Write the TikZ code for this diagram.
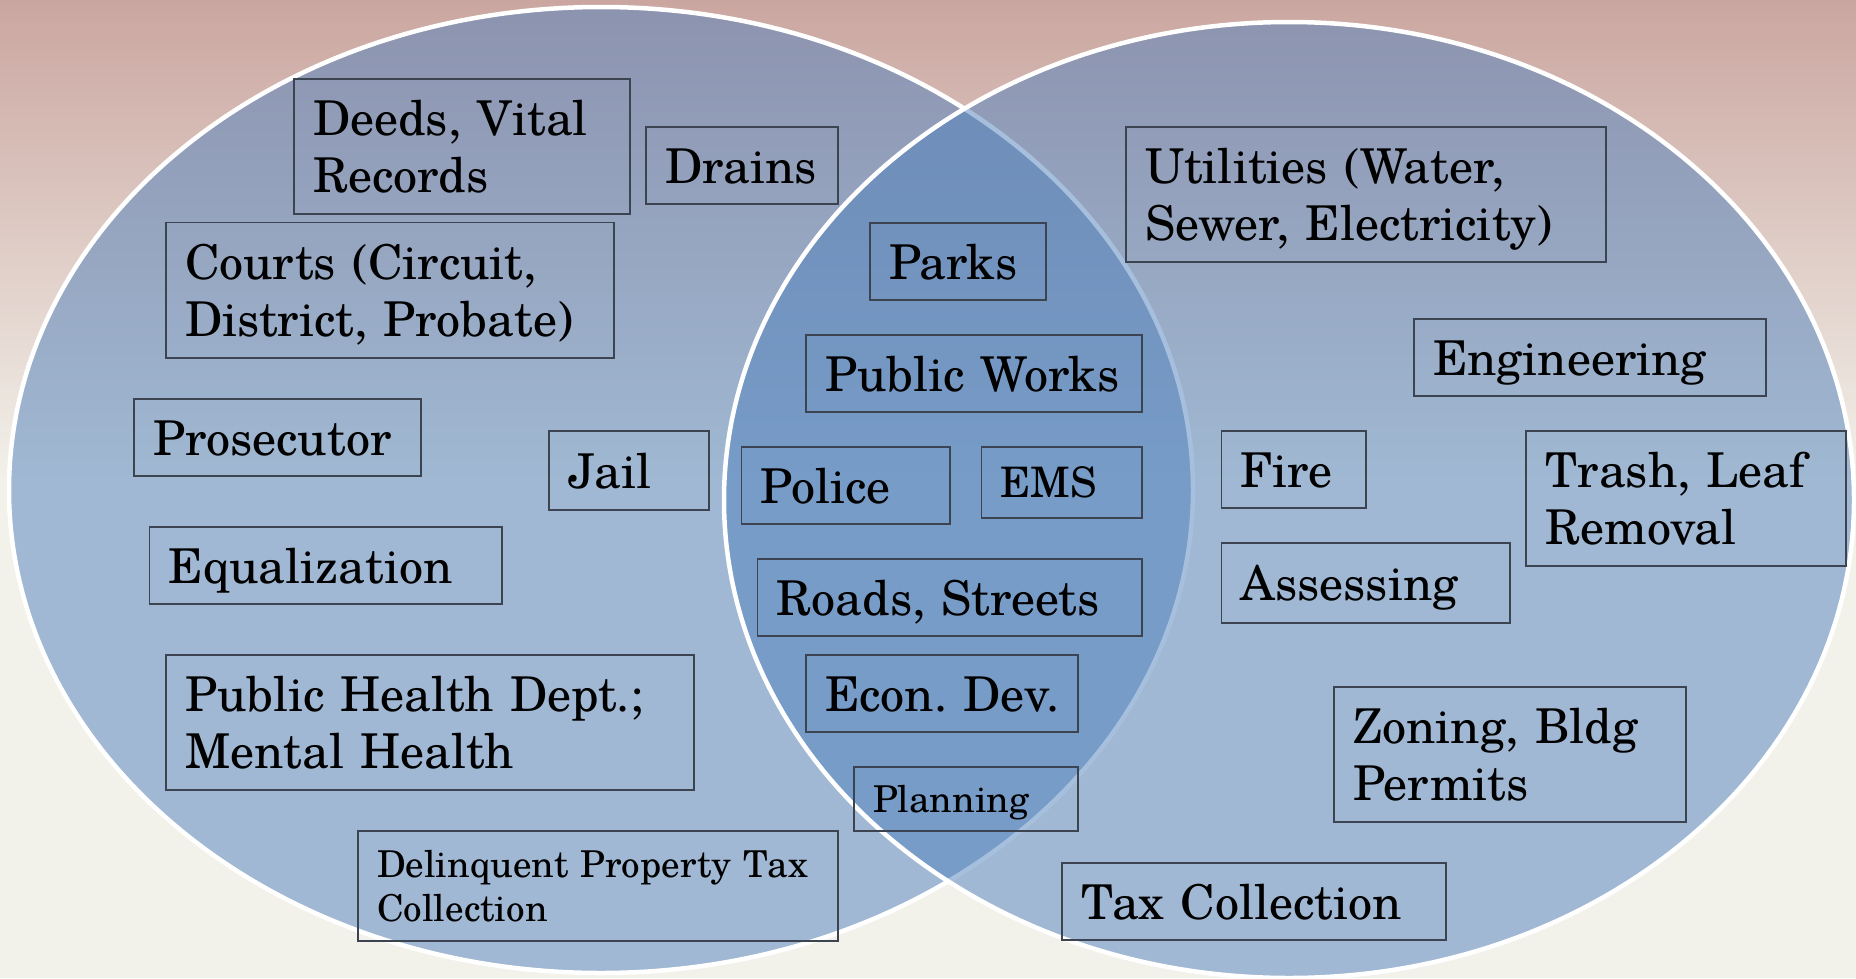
\documentclass[tikz,border=0pt]{standalone}
\usepackage{fontspec}
\setmainfont{TeX Gyre Schola}
\definecolor{bgtop}{RGB}{203,166,160}
\definecolor{bgbot}{RGB}{242,241,234}
\definecolor{venn}{RGB}{79,129,189}
\definecolor{boxline}{RGB}{60,68,82}
\begin{document}
\begin{tikzpicture}[x=1pt,y=-1pt,
  box/.style={draw=boxline, line width=1.4pt, rectangle, inner xsep=19pt, inner ysep=0pt,
    align=left, font=\fontsize{48}{57}\selectfont, text height=35pt, text depth=0pt},
  two/.style={text depth=57pt},
  mid/.style={font=\fontsize{42}{50}\selectfont, text height=30pt},
  small/.style={font=\fontsize{37}{44}\selectfont, text height=26.5pt},
  smalltwo/.style={text depth=44pt},
  sz/.style n args={3}{minimum width=#1pt, minimum height=#2pt, text width=#3pt},
  circ/.style={fill=venn, fill opacity=0.5, draw=white, draw opacity=1, line width=4.5pt}]

% background
\fill[top color=bgtop, bottom color=bgbot] (0,0) rectangle (1856,481);
\fill[bgbot] (0,480) rectangle (1856,978);
\useasboundingbox (0,0) rectangle (1856,978);

% Venn circles
\path[circ] (601,490) ellipse [x radius=592pt, y radius=483pt];
\path[circ] (1289,500) ellipse [x radius=565pt, y radius=478pt];

% left set
\node[box, two, sz={336}{135}{298}] (deeds) at (462,146.5) {Deeds,~Vital\\Records};
\node[box, sz={192}{77}{154}] (drains) at (742,165.5) {Drains};
\node[box, two, sz={448}{135.5}{410}] (courts) at (390,290.25) {Courts~(Circuit,\\District,~Probate)};
\node[box, sz={287}{77}{249}] (prosecutor) at (277.5,437.5) {Prosecutor};
\node[box, sz={160}{79}{122}] (jail) at (629,470.5) {Jail};
\node[box, sz={352.5}{77}{314.5}] (equal) at (325.75,565.5) {Equalization};
\node[box, two, sz={528}{135}{490}] (health) at (430,722.5) {Public~Health~Dept.;\\Mental~Health};
\node[box, small, smalltwo, sz={480}{110}{442}] (delinquent) at (598,886) {Delinquent~Property~Tax\\Collection};

% shared
\node[box, sz={176}{77}{138}] (parks) at (958,261.5) {Parks};
\node[box, sz={336}{77}{298}] (pworks) at (974,373.5) {Public~Works};
\node[box, sz={208.5}{77}{170.5}] (police) at (845.75,485.5) {Police};
\node[box, mid, sz={160.5}{71}{122.5}] (ems) at (1061.75,482.5) {EMS};
\node[box, sz={384.5}{77}{346.5}] (roads) at (949.75,597.5) {Roads,~Streets};
\node[box, sz={272}{77}{234}] (econ) at (942,693.5) {Econ.~Dev.};
\node[box, small, sz={224}{64}{186}] (planning) at (966,799) {Planning};

% right set
\node[box, two, sz={480}{135}{442}] (utilities) at (1366,194.5) {Utilities~(Water,\\Sewer,~Electricity)};
\node[box, sz={352}{77}{314}] (engineering) at (1590,357.5) {Engineering};
\node[box, sz={144.5}{77}{106.5}] (fire) at (1293.75,469.5) {Fire};
\node[box, two, sz={320}{135}{282}] (trash) at (1686,498.5) {Trash,~Leaf\\Removal};
\node[box, sz={288.5}{80}{250.5}] (assessing) at (1365.75,583) {Assessing};
\node[box, two, sz={352}{135}{314}] (zoning) at (1510,754.5) {Zoning,~Bldg\\Permits};
\node[box, sz={384}{77}{346}] (tax) at (1254,901.5) {Tax~Collection};
\end{tikzpicture}
\end{document}
